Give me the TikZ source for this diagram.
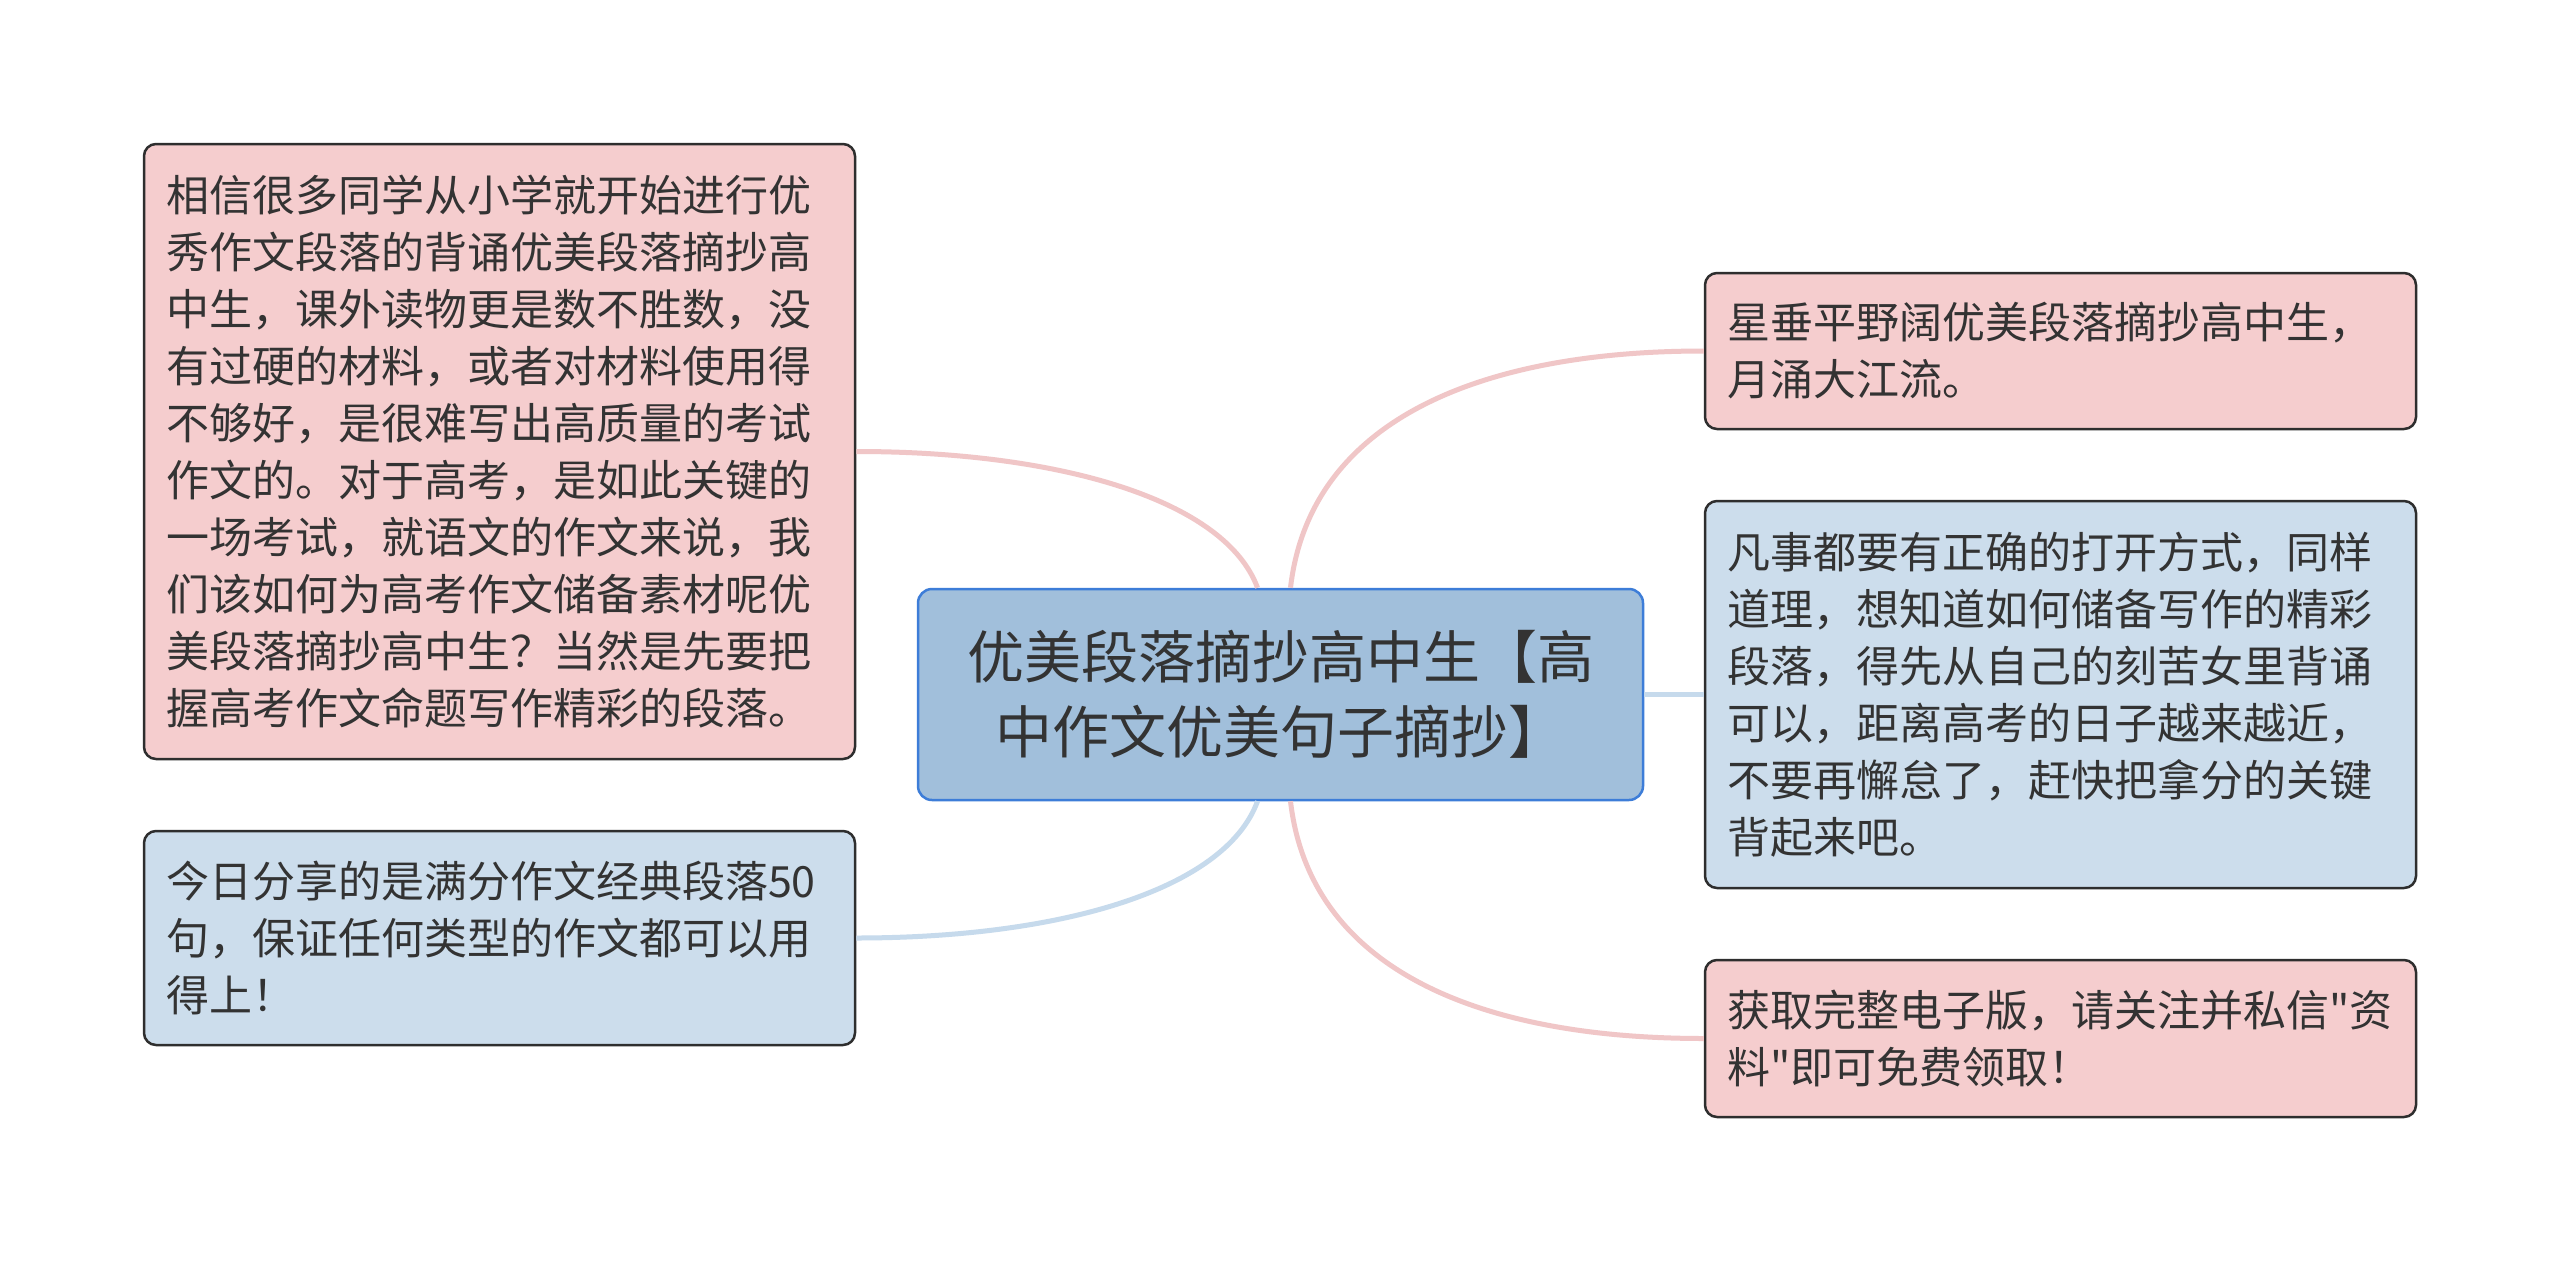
\documentclass[tikz,border=0pt]{standalone}
\usepackage{fontspec}
\setmainfont{Noto Sans CJK SC}[Ligatures=TeXOff]
\definecolor{pinkfill}{HTML}{F5CDCE}
\definecolor{bluefill}{HTML}{CCDDEC}
\definecolor{cenfill}{HTML}{A1BFDB}
\definecolor{cenedge}{HTML}{3D7DD8}
\definecolor{edgegray}{HTML}{2E2E2E}
\definecolor{txt}{HTML}{333333}
\definecolor{pinkline}{HTML}{F0C6C7}
\definecolor{blueline}{HTML}{C6DAEC}
\begin{document}
\begin{tikzpicture}[x=1pt,y=-1pt,
  leaf/.style={draw=edgegray, line width=2.5pt, rounded corners=12pt,
    text width=667pt, inner xsep=22pt, inner ysep=0pt, align=left,
    font=\fontsize{43}{57}\selectfont, text=txt},
  pinkleaf/.style={leaf, fill=pinkfill},
  blueleaf/.style={leaf, fill=bluefill},
  center/.style={draw=cenedge, fill=cenfill, line width=2.5pt, rounded corners=14pt,
    minimum width=725pt, minimum height=211pt, align=center,
    font=\fontsize{57}{75}\selectfont, text=txt},
  pinkconn/.style={draw=pinkline, line width=5pt},
  blueconn/.style={draw=blueline, line width=5pt}]
\fill[white] (0,0) rectangle (2560,1261);
\useasboundingbox (0,0) rectangle (2560,1261);

\node[center] (c) at (1280.5,694.5) {优美段落摘抄高中生【高\\中作文优美句子摘抄】};

\node[pinkleaf, minimum height=615pt] (lt) at (499.5,451.5) {相信很多同学从小学就开始进行优\\秀作文段落的背诵优美段落摘抄高\\中生，课外读物更是数不胜数，没\\有过硬的材料，或者对材料使用得\\不够好，是很难写出高质量的考试\\作文的。对于高考，是如此关键的\\一场考试，就语文的作文来说，我\\们该如何为高考作文储备素材呢优\\美段落摘抄高中生？当然是先要把\\握高考作文命题写作精彩的段落。};

\node[blueleaf, minimum height=214pt] (lb) at (499.5,938) {今日分享的是满分作文经典段落50\\句，保证任何类型的作文都可以用\\得上！};

\node[pinkleaf, minimum height=156pt] (rt) at (2060.5,351) {星垂平野阔优美段落摘抄高中生，\\月涌大江流。};

\node[blueleaf, minimum height=387pt] (rm) at (2060.5,694.5) {凡事都要有正确的打开方式，同样\\道理，想知道如何储备写作的精彩\\段落，得先从自己的刻苦女里背诵\\可以，距离高考的日子越来越近，\\不要再懈怠了，赶快把拿分的关键\\背起来吧。};

\node[pinkleaf, minimum height=157pt] (rb) at (2060.5,1038.5) {获取完整电子版，请关注并私信"资\\料"即可免费领取！};

\coordinate (ctl) at ([xshift=-23pt]c.north);
\coordinate (ctr) at ([xshift=10pt]c.north);
\coordinate (cbl) at ([xshift=-23pt]c.south);
\coordinate (cbr) at ([xshift=10pt]c.south);

\draw[pinkconn] (ctl) .. controls (1225,500) and (1060,451.5) .. (lt.east);
\draw[pinkconn] (ctr) .. controls (1310,420) and (1480,351) .. (rt.west);
\draw[blueconn] (c.east) -- (rm.west);
\draw[pinkconn] (cbr) .. controls (1310,970) and (1480,1038.5) .. (rb.west);
\draw[blueconn] (cbl) .. controls (1225,890) and (1060,938) .. (lb.east);
\end{tikzpicture}
\end{document}
